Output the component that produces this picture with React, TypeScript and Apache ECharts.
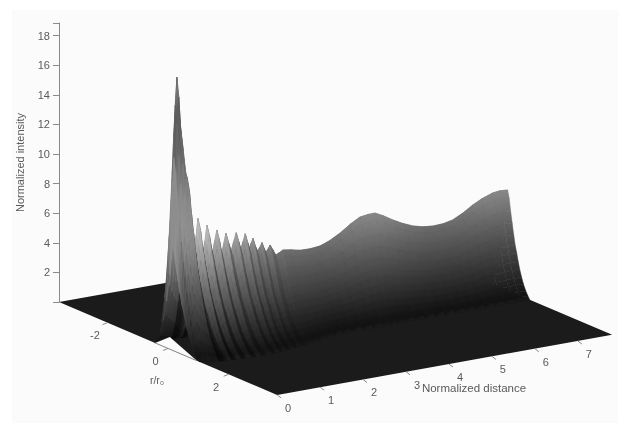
import React, { useEffect, useRef } from "react";
import * as echarts from "echarts";

// Values
const intensityTicks = [2, 4, 6, 8, 10, 12, 14, 16, 18];
const distanceTicks = [0, 1, 2, 3, 4, 5, 6, 7];
const radiusTicks = [-2, 0, 2];

// Normalized distance samples along the ridge, with the peak intensity at each one
const ridgeDistance = [
  0, 0.03, 0.06, 0.1, 0.14, 0.2, 0.25, 0.29, 0.34, 0.39, 0.44, 0.5,
  0.55, 0.59, 0.64, 0.7, 0.75, 0.8, 0.86, 0.92, 0.98, 1.03, 1.08, 1.14, 1.19, 1.24, 1.3, 1.36, 1.42,
  1.48, 1.53, 1.58, 1.64, 1.69, 1.74, 1.78, 1.83, 1.87, 1.92, 1.97, 2.03, 2.08, 2.13, 2.17, 2.22, 2.27, 2.33, 2.4, 2.48, 2.57,
  2.75, 2.97, 3.2, 3.43, 3.65, 3.9, 4.15, 4.36, 4.55, 4.71, 4.9, 5.13, 5.35, 5.59, 5.82, 6.06, 6.3, 6.52, 6.75, 6.99, 7.2, 7.45, 7.62, 7.8,
];
const ridgeIntensity = [
  7, 13, 16.5, 18.4, 16.2, 14.5, 13, 12, 11.5, 9.2, 7, 6.2,
  7.4, 8.6, 7.2, 6.1, 7, 8.04, 6.9, 6, 6.9, 7.6, 6.7, 5.9, 6.6, 7.27, 6.6, 6, 6.6,
  7.18, 6.6, 6, 6.5, 7, 6.4, 6, 6.3, 6.6, 6.1, 5.7, 5.9, 6.2, 5.8, 5.5, 5.7, 5.94, 5.6, 5.2, 5.3, 5.45,
  5.36, 5.22, 5.2, 5.27, 5.5, 5.9, 6.4, 6.74, 6.82, 6.83, 6.55, 6.14, 5.8, 5.5, 5.32, 5.25, 5.28, 5.42, 5.75, 6.19, 6.5, 6.76, 6.82, 6.78,
];

// Offset from the ridge in r/r0, with the share of the ridge height found there
const crossOffset = [
  -0.6, -0.5, -0.4, -0.3, -0.2, -0.1, -0.05, 0, 0.05, 0.1, 0.15, 0.2, 0.25, 0.3, 0.35, 0.4, 0.46, 0.52, 0.6, 0.67, 0.73,
];
const crossShare = [
  0, 0.03, 0.12, 0.25, 0.45, 0.72, 0.87, 1, 0.93, 0.8, 0.69, 0.58, 0.48, 0.41, 0.33, 0.26, 0.19, 0.13, 0.07, 0.03, 0,
];

// How far the foot of the surface spreads towards the viewer, along the distance axis
const spreadDistance = [0, 0.5, 1.5, 2.6, 3.4, 7.8];
const spreadFactor = [1.2, 1.5, 1.6, 1.3, 1, 1];

// Grey level by intensity
const greyIntensity = [0, 0.15, 0.5, 1, 2, 3, 4, 5, 6, 7, 8, 10, 14, 16, 18.4];
const greyLevel = [28, 17, 22, 32, 50, 68, 85, 103, 122, 138, 145, 140, 95, 90, 140];

const RIDGE_R = 0.15;
const R_MIN = -3.6;
const R_MAX = 3.6;
const Z_MAX = 7.8;
const PX_R = [30.3, 12.9];
const PX_Z = [42.95, -7.7];
const PX_I = 14.8;

const project = (r: number, z: number, i: number) => [
  (r - R_MIN) * PX_R[0] + z * PX_Z[0],
  i - ((r - R_MIN) * PX_R[1] + z * PX_Z[1]) / PX_I,
];

const greyOf = (v: number, shade: number) => {
  let k = 0;
  while (k < greyIntensity.length - 2 && v > greyIntensity[k + 1]) k++;
  const t = Math.min(1, (v - greyIntensity[k]) / (greyIntensity[k + 1] - greyIntensity[k]));
  const g = Math.round(Math.min(235, (greyLevel[k] + t * (greyLevel[k + 1] - greyLevel[k])) * shade));
  return `rgb(${g},${g},${g})`;
};

const spreadAt = (z: number) => {
  let k = 0;
  while (k < spreadDistance.length - 2 && z > spreadDistance[k + 1]) k++;
  const t = (z - spreadDistance[k]) / (spreadDistance[k + 1] - spreadDistance[k]);
  return spreadFactor[k] + t * (spreadFactor[k + 1] - spreadFactor[k]);
};

const cells: number[][] = [];
for (let j = ridgeDistance.length - 2; j >= 0; j--) {
  for (let i = 0; i < crossOffset.length - 1; i++) cells.push([i, j]);
}

const renderCell = (params: any, api: any) => {
  const i = api.value(0);
  const j = api.value(1);
  const corner = (a: number, b: number) => {
    const h = ridgeIntensity[b] * crossShare[a];
    const u = crossOffset[a] > 0 ? crossOffset[a] * spreadAt(ridgeDistance[b]) : crossOffset[a];
    return api.coord(project(u + RIDGE_R, ridgeDistance[b], h));
  };
  const level = (a: number) => crossShare[a] * ((ridgeIntensity[j] + ridgeIntensity[j + 1]) / 2);
  const slope = (ridgeIntensity[j + 1] - ridgeIntensity[j]) / (ridgeDistance[j + 1] - ridgeDistance[j]);
  const ribbed = ridgeDistance[j] > 0.3 && ridgeDistance[j] < 2.6;
  const shade = ribbed ? 1 + Math.max(-0.5, Math.min(0.28, (slope / 25) * 0.4)) : 1;
  const p = [corner(i, j), corner(i + 1, j), corner(i + 1, j + 1), corner(i, j + 1)];
  const mid0 = [(p[0][0] + p[3][0]) / 2, (p[0][1] + p[3][1]) / 2];
  const mid1 = [(p[1][0] + p[2][0]) / 2, (p[1][1] + p[2][1]) / 2];
  const fill = new echarts.graphic.LinearGradient(
    mid0[0],
    mid0[1],
    mid1[0],
    mid1[1],
    [
      { offset: 0, color: greyOf(level(i), shade) },
      { offset: 1, color: greyOf(level(i + 1), shade) },
    ],
    true
  );
  return {
    type: "polygon",
    shape: { points: p },
    style: { fill, stroke: greyOf((level(i) + level(i + 1)) / 2, shade), lineWidth: 0.5 },
    silent: true,
  };
};

const renderFloor = (params: any, api: any) => {
  const at = (r: number, z: number) => api.coord(project(r, z, 0));
  return {
    type: "polygon",
    shape: { points: [at(R_MIN, 0), at(R_MAX, 0), at(R_MAX, Z_MAX), at(R_MIN, Z_MAX)] },
    style: { fill: "#1b1b1b" },
    silent: true,
  };
};

const TEXT = "#5a5a5a";
const FONT = "Liberation Sans";
const labelStyle = (text: string, x: number, y: number, size = 11) => ({
  text,
  x,
  y,
  fill: TEXT,
  font: `${size}px "${FONT}"`,
  align: "center",
  verticalAlign: "middle",
});

const renderDecor = (params: any, api: any) => {
  const at = (r: number, z: number) => api.coord(project(r, z, 0));
  const children: any[] = [];
  // notch in the front edge of the floor
  children.push({
    type: "polygon",
    shape: { points: [at(-0.43, 0), at(-0.61, 0.47), at(0.95, 0)] },
    style: { fill: "#fbfbfb" },
  });
  const edge = (a: number[], b: number[]) => ({
    type: "line",
    shape: { x1: a[0], y1: a[1], x2: b[0], y2: b[1] },
    style: { stroke: "#8a8a8a", lineWidth: 1 },
  });
  children.push(edge(at(-0.43, 0), at(0.95, 0)));
  radiusTicks.forEach((r) => {
    const p = at(r, 0);
    children.push(edge(p, [p[0] - 5, p[1] + 2]));
    children.push({ type: "text", style: labelStyle(String(r), p[0] - 12.5, p[1] + 12.5) });
  });
  distanceTicks.forEach((z) => {
    const p = at(R_MAX, z);
    children.push(edge(p, [p[0] + 4, p[1] + 3]));
    children.push({ type: "text", style: labelStyle(String(z), p[0] + 11, p[1] + 13) });
  });
  const c0 = at(0, 0);
  children.push({ type: "text", style: labelStyle("r/r\u2080", c0[0] - 11, c0[1] + 32, 10.5) });
  const c1 = at(R_MAX, 3);
  children.push({
    type: "text",
    style: { ...labelStyle("Normalized distance", c1[0] + 68, c1[1] + 16, 11.5) },
  });
  return { type: "group", children, silent: true };
};

export default function App() {
  const ref = useRef<HTMLDivElement>(null);
  useEffect(() => {
    const chart = echarts.init(ref.current!, undefined, { renderer: "svg" });
    chart.setOption({
      animation: false,
      backgroundColor: "#ffffff",
      graphic: [
        {
          type: "rect",
          z: -10,
          shape: { x: 12, y: 10, width: 606, height: 413 },
          style: { fill: "#fbfbfb" },
          silent: true,
        },
      ],
      grid: { left: 59, top: 23, width: 553, height: 279, containLabel: false },
      xAxis: { type: "value", min: 0, max: 553, show: false },
      yAxis: {
        type: "value",
        min: 0,
        max: 18.85,
        interval: 2,
        name: "Normalized intensity",
        nameLocation: "middle",
        nameGap: 34,
        nameTextStyle: { color: TEXT, fontSize: 11, fontFamily: FONT },
        axisLine: { show: true, onZero: false, lineStyle: { color: "#8a8a8a", width: 1 } },
        axisTick: { show: true, length: 6, lineStyle: { color: "#8a8a8a" } },
        axisLabel: {
          color: TEXT,
          fontSize: 11,
          margin: 9,
          fontFamily: FONT,
          formatter: (v: number) => (intensityTicks.includes(v) ? String(v) : ""),
        },
        splitLine: { show: false },
      },
      series: [
        {
          type: "custom",
          name: "Floor",
          data: [[0, 0]],
          renderItem: renderFloor,
          clip: false,
          silent: true,
        },
        {
          type: "custom",
          name: "Surface",
          data: cells,
          renderItem: renderCell,
          progressive: 0,
          clip: false,
          silent: true,
        },
        {
          type: "custom",
          name: "Floor axes",
          data: [[0, 0]],
          renderItem: renderDecor,
          clip: false,
          silent: true,
        },
      ],
    });
    return () => chart.dispose();
  }, []);
  return (
    <div
      ref={ref}
      style={{ position: "absolute", left: 0, top: 0, width: 623, height: 423, filter: "blur(0.7px)" }}
    />
  );
}
